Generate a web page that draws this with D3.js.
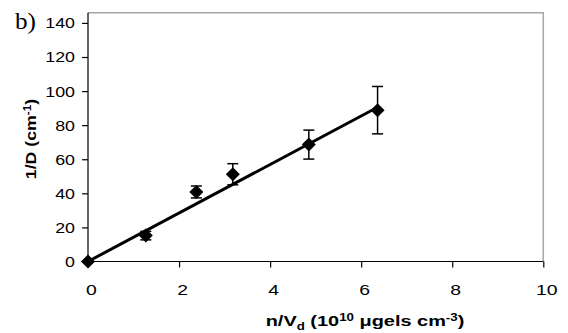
<!DOCTYPE html>
<html><head><meta charset="utf-8">
<script src="https://cdn.jsdelivr.net/npm/d3@7"></script>
<style>html,body{margin:0;padding:0;background:#fff;}svg{display:block;}</style>
</head><body>
<svg id="chart" width="568" height="333"></svg>
<script>
// ---- data ----
const xValues = [0, 1.27, 2.38, 3.18, 4.85, 6.36];
const yValues = [0, 15.2, 40.8, 51.2, 68.6, 88.8];
const yErrors = [0, 2.5, 3.5, 6.2, 8.5, 13.9];
const fitX = [0, 6.36];
const fitY = [0, 90.5];
const xTicks = [0, 2, 4, 6, 8, 10];
const yTicks = [0, 20, 40, 60, 80, 100, 120, 140];
const xDomain = [0, 10];
const yDomain = [0, 146];
const panelLabel = "b)";

const FONT = "'Liberation Sans', Arial, sans-serif";
const svg = d3.select("#chart");
const L = 88, R = 543.3, T = 12.7, B = 261.5;
const x = d3.scaleLinear().domain(xDomain).range([L, R]);
const y = d3.scaleLinear().domain(yDomain).range([B, T]);

// plot box top/right (gray)
svg.append("path").attr("d", `M${L},${T}H${R}V${B}`)
  .attr("fill", "none").attr("stroke", "#a6a6a6").attr("stroke-width", 1.5);

// axes
const yAxis = d3.axisLeft(y).tickValues(yTicks).tickSize(6).tickPadding(7);
const gy = svg.append("g").attr("transform", `translate(${L},0)`).call(yAxis);
gy.select(".domain").remove();
gy.append("line").attr("x1", 0).attr("x2", 0).attr("y1", T).attr("y2", B).attr("stroke", "#000").attr("stroke-width", 1.2);
gy.selectAll(".tick line").attr("stroke", "#000").attr("stroke-width", 1.2);
gy.selectAll(".tick text").attr("font-family", FONT).attr("font-size", 15.5)
  .attr("fill", "#000")
  .each(function () {
    const t = d3.select(this);
    const xx = +t.attr("x");
    t.attr("transform", `translate(${xx},0) scale(1.15,1)`).attr("x", 0);
  });

const xAxis = d3.axisBottom(x).tickValues(xTicks).tickSize(6).tickPadding(0);
const gx = svg.append("g").attr("transform", `translate(0,${B})`).call(xAxis);
gx.select(".domain").remove();
gx.append("line").attr("x1", L).attr("x2", R).attr("y1", 0).attr("y2", 0).attr("stroke", "#000").attr("stroke-width", 1.2);
gx.selectAll(".tick line").attr("stroke", "#000").attr("stroke-width", 1.2);
gx.selectAll(".tick text").attr("font-family", FONT).attr("font-size", 15.5)
  .attr("fill", "#000").attr("dy", null).attr("y", null)
  .attr("transform", "translate(3,33.5) scale(1.25,1)");

// fit line
svg.append("line")
  .attr("x1", x(fitX[0])).attr("y1", y(fitY[0]))
  .attr("x2", x(fitX[1])).attr("y2", y(fitY[1]))
  .attr("stroke", "#000").attr("stroke-width", 3);

// error bars
const pts = xValues.map((v, i) => ({ x: v, y: yValues[i], e: yErrors[i] }));
const eb = svg.append("g").attr("stroke", "#000").attr("stroke-width", 1.5);
pts.filter(d => d.e > 0).forEach(d => {
  eb.append("line").attr("x1", x(d.x)).attr("x2", x(d.x)).attr("y1", y(d.y - d.e)).attr("y2", y(d.y + d.e));
  [d.y - d.e, d.y + d.e].forEach(v => {
    eb.append("line").attr("x1", x(d.x) - 5.5).attr("x2", x(d.x) + 5.5).attr("y1", y(v)).attr("y2", y(v));
  });
});

// markers
const r = 7;
svg.append("g").selectAll("path").data(pts).join("path")
  .attr("d", d => `M${x(d.x)},${y(d.y) - r}L${x(d.x) + r},${y(d.y)}L${x(d.x)},${y(d.y) + r}L${x(d.x) - r},${y(d.y)}Z`)
  .attr("fill", "#000");

// axis titles
const xt = svg.append("text").attr("font-family", FONT)
  .attr("font-weight", "bold").attr("font-size", 15).attr("text-anchor", "middle")
  .attr("transform", "translate(365,326) scale(1.33,1)");
xt.append("tspan").text("n/V");
xt.append("tspan").attr("font-size", 10).attr("dy", 4).text("d");
xt.append("tspan").attr("dy", -4).text(" (10");
xt.append("tspan").attr("font-size", 10).attr("dy", -5).text("10");
xt.append("tspan").attr("dy", 5).text(" μgels cm");
xt.append("tspan").attr("font-size", 10).attr("dy", -5).text("-3");
xt.append("tspan").attr("dy", 5).text(")");

const yt = svg.append("text").attr("font-family", FONT)
  .attr("font-weight", "bold").attr("font-size", 15).attr("text-anchor", "middle")
  .attr("transform", "translate(36,139) rotate(-90) scale(1.18,1)");
yt.append("tspan").text("1/D (cm");
yt.append("tspan").attr("font-size", 10).attr("dy", -5).text("-1");
yt.append("tspan").attr("dy", 5).text(")");

svg.append("text").attr("font-family", "'Liberation Serif', 'Times New Roman', serif")
  .attr("font-size", 24).attr("transform", "translate(15,29) scale(1.05,1)").text(panelLabel);
</script>
</body></html>
